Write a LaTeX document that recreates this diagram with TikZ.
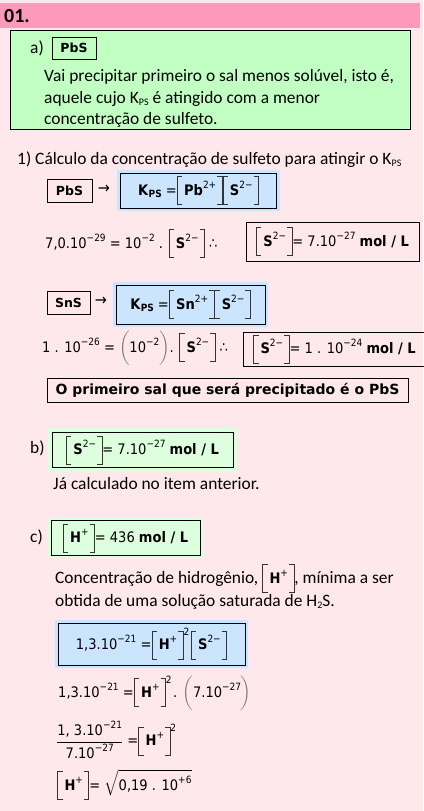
\documentclass[tikz,border=0pt]{standalone}
\usepackage{amsmath}
\usepackage{fontspec}
\setmainfont{Carlito}
\newfontfamily\eqf[FakeStretch=0.9]{DejaVu Sans}
\newfontfamily\boldv{DejaVu Sans}
\definecolor{bgp}{HTML}{FFE8EC}
\definecolor{hdr}{HTML}{FF99BB}
\definecolor{grn}{HTML}{C2FFC2}
\definecolor{lgrn}{HTML}{DDFFDD}
\definecolor{blu}{HTML}{CCE5FF}
\newcommand\Lb{{\color{black!80}\rule[-10pt]{0.8pt}{29pt}\rule[-10pt]{4.5pt}{0.8pt}\hspace{-4.5pt}\rule[18.2pt]{4.5pt}{0.8pt}}}
\newcommand\Rb{{\color{black!80}\rule[-10pt]{4.5pt}{0.8pt}\hspace{-4.5pt}\rule[18.2pt]{4.5pt}{0.8pt}\rule[-10pt]{0.8pt}{29pt}}}
\newcommand\Bk[1]{\Lb\hspace{2pt}#1\hspace{1pt}\Rb}
\newcommand\Sup[1]{\raisebox{7pt}{\fontsize{10}{10}\selectfont#1}}
\newcommand\Sub[1]{\raisebox{-2.5pt}{\fontsize{10}{10}\selectfont#1}}
\newcommand\Sq{\raisebox{14pt}{\fontsize{10}{10}\selectfont 2}\hspace{1.5pt}}
\newcommand\Pa[1]{{\color{black!55}$\left(\rule[-9pt]{0pt}{27pt}\right.$}\hspace{-1.5pt}#1\hspace{-1.5pt}{\color{black!55}$\left.\rule[-9pt]{0pt}{27pt}\right)$}}
\tikzset{
  txt/.style={font=\fontsize{17.4}{20}\selectfont, inner sep=0pt, anchor=base west},
  eqs/.style={font=\eqf\fontsize{14.5}{17}\selectfont, inner sep=0pt},
  frame/.style={draw=black, line width=0.8pt, inner sep=0pt},
  bgbox/.style={inner sep=0pt, draw=none},
  salt/.style={font=\boldv\bfseries\fontsize{12.5}{15}\selectfont}
}
\begin{document}
\begin{tikzpicture}[x=1pt,y=-1pt]
\useasboundingbox (0,0) rectangle (423,811);
\fill[bgp] (0,0) rectangle (423,811);
% header
\node[bgbox, fill=hdr, minimum width=420pt, minimum height=25pt, anchor=north west] (hdr) at (0,3) {};
\node[font=\bfseries\fontsize{20}{22}\selectfont, anchor=west, inner sep=0pt] (num) at (4,16) {01.};
% a)
\node[frame, fill=grn, minimum width=400pt, minimum height=99pt, anchor=north west] (ga) at (10,30) {};
\node[txt] (la) at (30,53) {a)};
\node[frame, salt, minimum width=44pt, minimum height=22pt] (pbs1) at (74,48) {PbS};
\node[txt] (t1) at (44,81) {Vai precipitar primeiro o sal menos solúvel, isto é,};
\node[txt] (t2) at (44,103) {aquele cujo K\Sub{PS} é atingido com a menor};
\node[txt] (t3) at (44,124) {concentração de sulfeto.};
% 1)
\node[txt] (t4) at (17,164) {1) Cálculo da concentração de sulfeto para atingir o K\Sub{PS}};
\node[frame, salt, minimum width=45pt, minimum height=23pt] (pbs2) at (69.5,190.5) {PbS};
\node[eqs, font=\eqf\fontsize{16}{18}\selectfont] (ar1) at (104,189) {→};
\node[bgbox, fill=blu, minimum width=163pt, minimum height=41pt] (bb1) at (198.5,190.5) {};
\node[frame, eqs, minimum width=156pt, minimum height=35pt] (k1) at (198.5,190.5) {\textbf{K}\Sub{\textbf{PS}} =\Bk{\textbf{Pb}\Sup{2+}}\Bk{\textbf{S}\Sup{2−}}};
\node[eqs, anchor=base west] (e1) at (45,248) {7,0.10\Sup{−29} = 10\Sup{−2} . \Bk{\textbf{S}\Sup{2−}} ∴};
\node[frame, eqs, minimum width=173pt, minimum height=39pt] (r1) at (332.5,241.5) {\Bk{\textbf{S}\Sup{2−}}= 7.10\Sup{−27} \textbf{mol / L}};
% SnS
\node[frame, salt, minimum width=43pt, minimum height=23pt] (sns) at (68.5,302.5) {SnS};
\node[eqs, font=\eqf\fontsize{16}{18}\selectfont] (ar2) at (101,301) {→};
\node[bgbox, fill=blu, minimum width=155pt, minimum height=45pt] (bb2) at (190.5,304.5) {};
\node[frame, eqs, minimum width=149pt, minimum height=39pt] (k2) at (190.5,304.5) {\textbf{K}\Sub{\textbf{PS}} =\Bk{\textbf{Sn}\Sup{2+}}\Bk{\textbf{S}\Sup{2−}}};
\node[eqs, anchor=base west] (e2) at (42,352) {1 . 10\Sup{−26} = \Pa{10\Sup{−2}}. \Bk{\textbf{S}\Sup{2−}} ∴};
\node[frame, eqs, minimum width=183pt, minimum height=34pt] (r2) at (334.5,349) {\Bk{\textbf{S}\Sup{2−}}= 1 . 10\Sup{−24} \textbf{mol / L}};
\node[frame, font=\boldv\bfseries\fontsize{14}{16}\selectfont, minimum width=361pt, minimum height=24pt] (concl) at (227.5,390) {O primeiro sal que será precipitado é o PbS};
% b)
\node[txt] (lb) at (30,453) {b)};
\node[bgbox, fill=lgrn, minimum width=189pt, minimum height=44pt] (bgb) at (142.5,450) {};
\node[frame, eqs, minimum width=181pt, minimum height=35pt] (rb) at (142.5,450) {\Bk{\textbf{S}\Sup{2−}}= 7.10\Sup{−27} \textbf{mol / L}};
\node[txt] (jc) at (53,489) {Já calculado no item anterior.};
% c)
\node[txt] (lc) at (30,542) {c)};
\node[bgbox, fill=lgrn, minimum width=155pt, minimum height=40pt] (bgc) at (125.5,538) {};
\node[frame, eqs, minimum width=149pt, minimum height=35pt] (rc) at (125.5,538) {\Bk{\textbf{H}\Sup{+}}= 436 \textbf{mol / L}};
\node[txt] (t5) at (55,583) {Concentração de hidrogênio, {\eqf\fontsize{14.5}{17}\selectfont\Bk{\textbf{H}\Sup{+}}}, mínima a ser};
\node[txt] (t6) at (55,606) {obtida de uma solução saturada de H\Sub{2}S.};
\node[bgbox, fill=blu, minimum width=193pt, minimum height=48pt] (bb3) at (151.5,644) {};
\node[frame, eqs, minimum width=187pt, minimum height=42pt] (k3) at (151.5,644) {1,3.10\Sup{−21} =\Bk{\textbf{H}\Sup{+}}\Sq\Bk{\textbf{S}\Sup{2−}}};
\node[eqs, anchor=base west] (e3) at (58,697) {1,3.10\Sup{−21} =\Bk{\textbf{H}\Sup{+}}\Sq. \Pa{7.10\Sup{−27}}};
\node[eqs, anchor=west] (e4) at (56,740) {$\dfrac{\hbox{1, 3.10\Sup{−21}}}{\hbox{7.10\Sup{−27}}}$ =\Bk{\textbf{H}\Sup{+}}\Sq};
\node[eqs, anchor=base west] (e5) at (57,790) {\Bk{\textbf{H}\Sup{+}}= $\sqrt{\hbox{0,19 . 10\Sup{+6}}}$};
\end{tikzpicture}
\end{document}
